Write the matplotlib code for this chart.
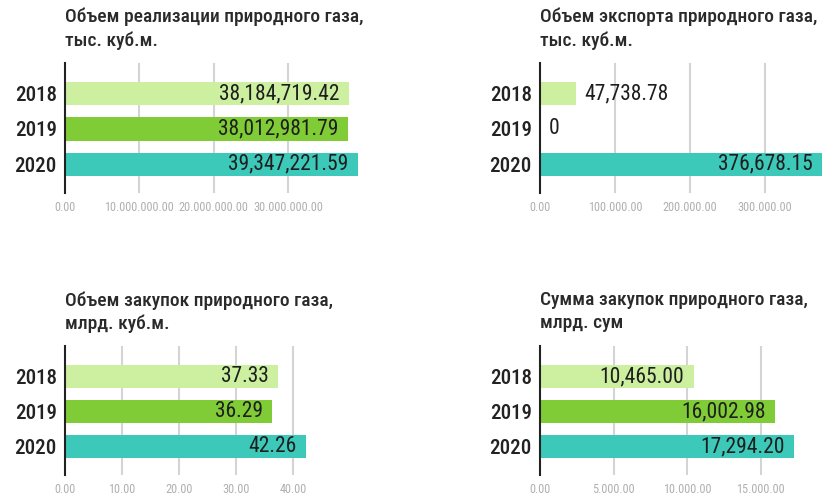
import matplotlib
matplotlib.use('Agg')
import matplotlib.pyplot as plt

plt.rcParams['font.family'] = ['Roboto Condensed', 'DejaVu Sans']

years = ['2018', '2019', '2020']
bar_colors = ['#ccf0a0', '#80cc36', '#3dc9b9']

titles = [
  'Объем реализации природного газа,\nтыс. куб.м.',
  'Объем экспорта природного газа,\nтыс. куб.м.',
  'Объем закупок природного газа,\nмлрд. куб.м.',
  'Сумма закупок природного газа,\nмлрд. сум',
]
sales = [38184719.42, 38012981.79, 39347221.59]
export = [47738.78, 0, 376678.15]
purchase_vol = [37.33, 36.29, 42.26]
purchase_sum = [10465.00, 16002.98, 17294.20]

ticks_sales = [0, 10000000, 20000000, 30000000]
ticks_export = [0, 100000, 200000, 300000]
ticks_vol = [0, 10, 20, 30, 40]
ticks_sum = [0, 5000, 10000, 15000]

W, H = 823, 497
fig = plt.figure(figsize=(W / 100, H / 100), dpi=100)

#(left px, top px, right px, bottom px), xmax
panels = [
  (sales, ticks_sales, titles[0], (65, 62.7, 370, 192.7), 41000000),
  (export, ticks_export, titles[1], (540, 62.7, 823, 192.7), 377500),
  (purchase_vol, ticks_vol, titles[2], (65, 346, 330, 475), 46.4),
  (purchase_sum, ticks_sum, titles[3], (540, 346, 823, 475), 19250),
]

for values, ticks, title, (l, t, r, b), xmax in panels:
  ax = fig.add_axes([l / W, 1 - b / H, (r - l) / W, (b - t) / H])
  ax.barh(range(len(years)), values, height=0.66, color=bar_colors, zorder=2)
  ax.set_xlim(0, xmax)
  ax.set_ylim(2.81, -0.88)
  ax.set_yticks(range(len(years)))
  ax.set_yticklabels(years, fontsize=15, fontweight=500, color='#222222')
  ax.set_xticks(ticks)
  ax.set_xticklabels([f'{v:,.2f}'.replace(',', '.') for v in ticks],
                     fontsize=8.8, color='#b0b0b0')
  ax.tick_params(axis='both', length=0)
  ax.tick_params(axis='y', pad=6)
  ax.tick_params(axis='x', pad=6)
  for s in ['top', 'right', 'bottom']:
    ax.spines[s].set_visible(False)
  ax.spines['left'].set_color('#222222')
  ax.spines['left'].set_linewidth(1.5)
  ax.spines['left'].set_zorder(3)
  for tk in ticks[1:]:
    ax.axvline(tk, color='#d4d4d4', lw=1.5, zorder=1)

  vmax = max(values)
  for i, v in enumerate(values):
    label = '0' if v == 0 else f'{v:,.2f}'
    if v > 0.3 * vmax:
      ax.annotate(label, (v, i), xytext=(-7, 0), textcoords='offset points',
                  ha='right', va='center', fontsize=15.5,
                  color='#1e1e1e', zorder=4)
    else:
      ax.annotate(label, (v, i), xytext=(6, 0), textcoords='offset points',
                  ha='left', va='center', fontsize=15.5,
                  color='#1e1e1e', zorder=4)

  fig.text(l / W, 1 - (t - 55) / H, title, ha='left', va='top', fontsize=14,
           fontweight=500, color='#2a2a2a', linespacing=1.35)

fig.savefig('out.png', dpi=100)
